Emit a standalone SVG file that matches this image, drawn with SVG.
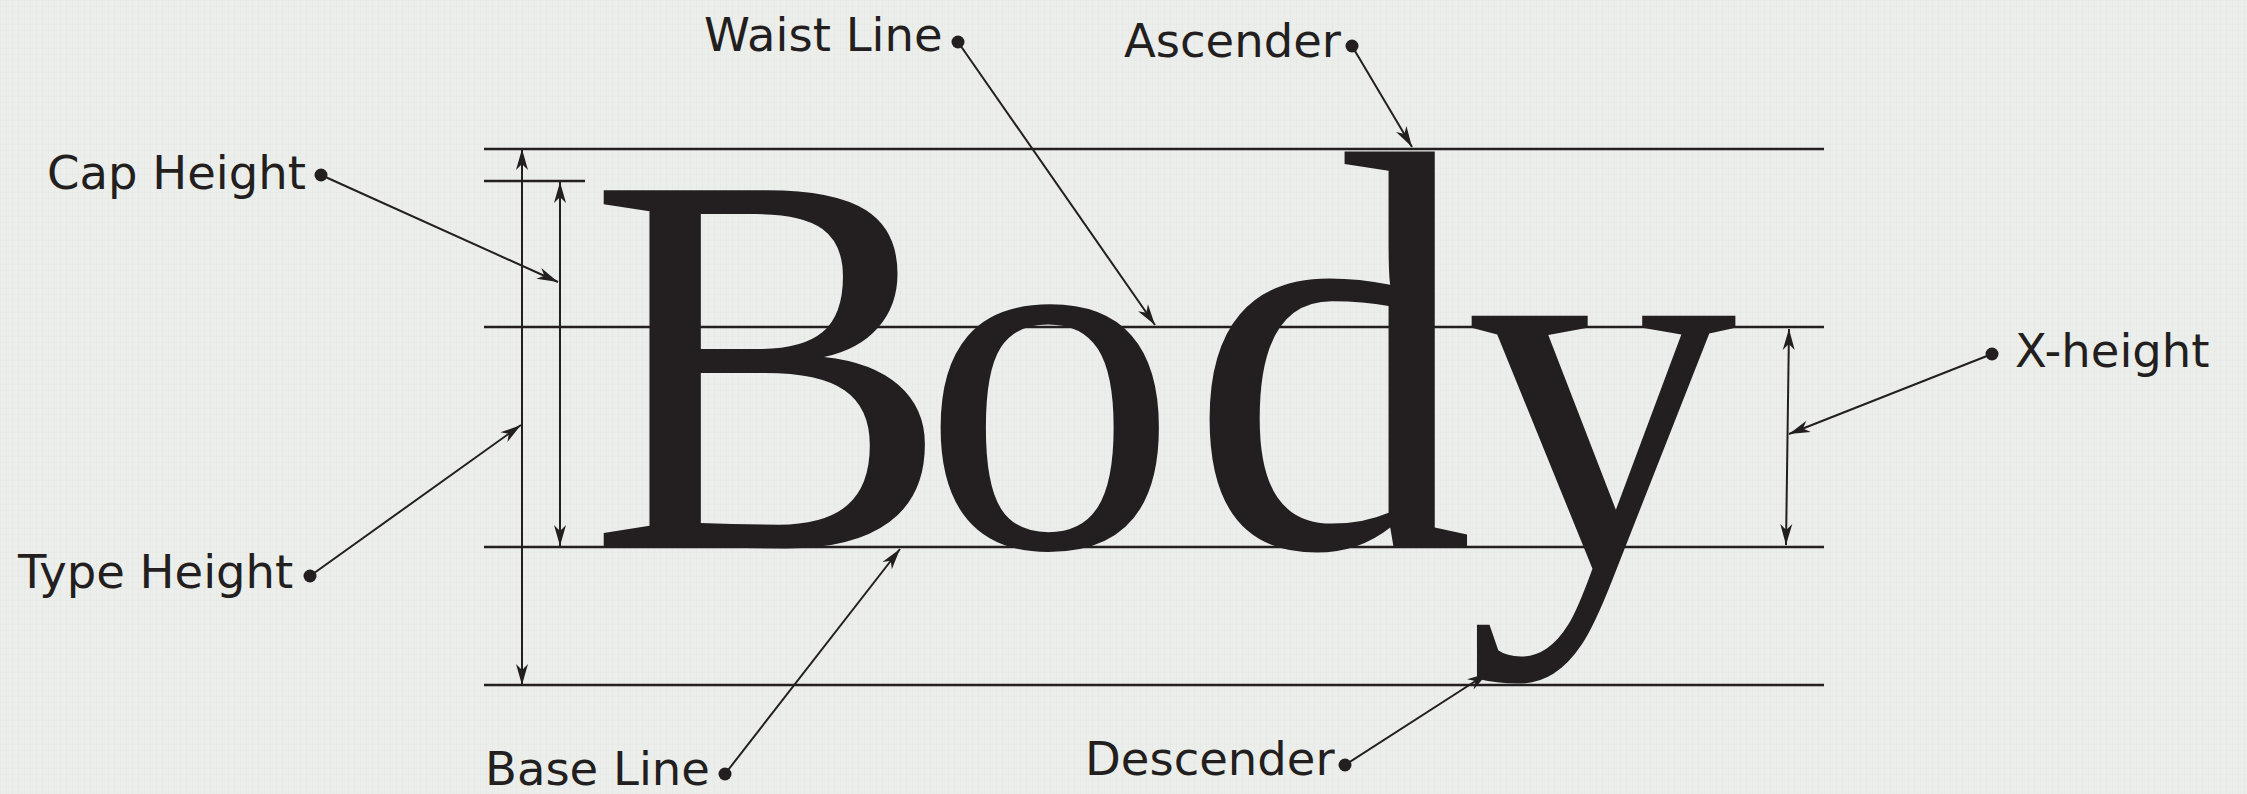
<svg xmlns="http://www.w3.org/2000/svg" width="2247" height="794" viewBox="0 0 2247 794">
  <defs>
    <style>
      .lbl { font-family: "DejaVu Sans", "Liberation Sans", sans-serif; font-size: 46.5px; fill: #231f20; }
      .dot { fill: #231f20; }
      .guide { stroke: #231f20; stroke-width: 2.6; fill: none; }
      .conn { stroke: #231f20; stroke-width: 2; fill: none; }
      .word { font-family: "Liberation Serif", "DejaVu Serif", serif; fill: #231f20; }
    </style>
    <marker id="arr" viewBox="-22 -8 24 16" refX="0" refY="0" markerWidth="24" markerHeight="16" markerUnits="userSpaceOnUse" orient="auto-start-reverse">
      <path d="M0,0 L-21,-6 L-15,0 L-21,6 Z" fill="#231f20"/>
    </marker>
    <pattern id="tex" width="6" height="6" patternUnits="userSpaceOnUse">
      <rect width="6" height="6" fill="#eceeeb"/>
      <rect x="0" y="0" width="1" height="6" fill="#e4e6e3" opacity="0.5"/>
      <rect x="0" y="0" width="6" height="1" fill="#e4e6e3" opacity="0.35"/>
    </pattern>
  </defs>

  <rect width="2247" height="794" fill="url(#tex)"/>

  <g id="guides">
    <line class="guide" x1="484" y1="149" x2="1824" y2="149"/>
    <line class="guide" x1="484" y1="181" x2="585" y2="181"/>
    <line class="guide" x1="484" y1="327" x2="1824" y2="327"/>
    <line class="guide" x1="484" y1="547" x2="1824" y2="547"/>
    <line class="guide" x1="484" y1="685" x2="1824" y2="685"/>
  </g>

  <g id="word">
    <text class="word" y="547"><tspan x="588" font-size="545">B</tspan><tspan x="921" font-size="515">o</tspan><tspan x="1189" font-size="570">d</tspan><tspan x="1465" y="566" font-size="545">y</tspan></text>
  </g>

  <g id="connectors">
    <line class="conn" x1="522" y1="149" x2="522" y2="685" marker-start="url(#arr)" marker-end="url(#arr)"/>
    <line class="conn" x1="560" y1="182" x2="560" y2="546" marker-start="url(#arr)" marker-end="url(#arr)"/>
    <line class="conn" x1="1789" y1="329" x2="1786" y2="545" marker-start="url(#arr)" marker-end="url(#arr)"/>
    <line class="conn" x1="321" y1="175" x2="558" y2="282" marker-end="url(#arr)"/>
    <line class="conn" x1="310" y1="576" x2="521" y2="425" marker-end="url(#arr)"/>
    <line class="conn" x1="958" y1="42" x2="1155" y2="325" marker-end="url(#arr)"/>
    <line class="conn" x1="1352" y1="46" x2="1412" y2="147" marker-end="url(#arr)"/>
    <line class="conn" x1="1992" y1="354" x2="1789" y2="434" marker-end="url(#arr)"/>
    <line class="conn" x1="725" y1="774" x2="900" y2="549" marker-end="url(#arr)"/>
    <line class="conn" x1="1345" y1="765" x2="1488" y2="673" marker-end="url(#arr)"/>
  </g>

  <g id="cap-height">
    <text class="lbl" x="47" y="189">Cap Height</text>
    <circle class="dot" cx="321" cy="175" r="6.5"/>
  </g>
  <g id="type-height">
    <text class="lbl" x="18" y="588">Type Height</text>
    <circle class="dot" cx="310" cy="576" r="6.5"/>
  </g>
  <g id="waist-line">
    <text class="lbl" x="704" y="51">Waist Line</text>
    <circle class="dot" cx="958" cy="42" r="6.5"/>
  </g>
  <g id="ascender">
    <text class="lbl" x="1124" y="57">Ascender</text>
    <circle class="dot" cx="1352" cy="46" r="6.5"/>
  </g>
  <g id="x-height">
    <text class="lbl" x="2015" y="367">X-height</text>
    <circle class="dot" cx="1992" cy="354" r="6.5"/>
  </g>
  <g id="base-line">
    <text class="lbl" x="485" y="785">Base Line</text>
    <circle class="dot" cx="725" cy="774" r="6.5"/>
  </g>
  <g id="descender">
    <text class="lbl" x="1085" y="775">Descender</text>
    <circle class="dot" cx="1345" cy="765" r="6.5"/>
  </g>
</svg>
